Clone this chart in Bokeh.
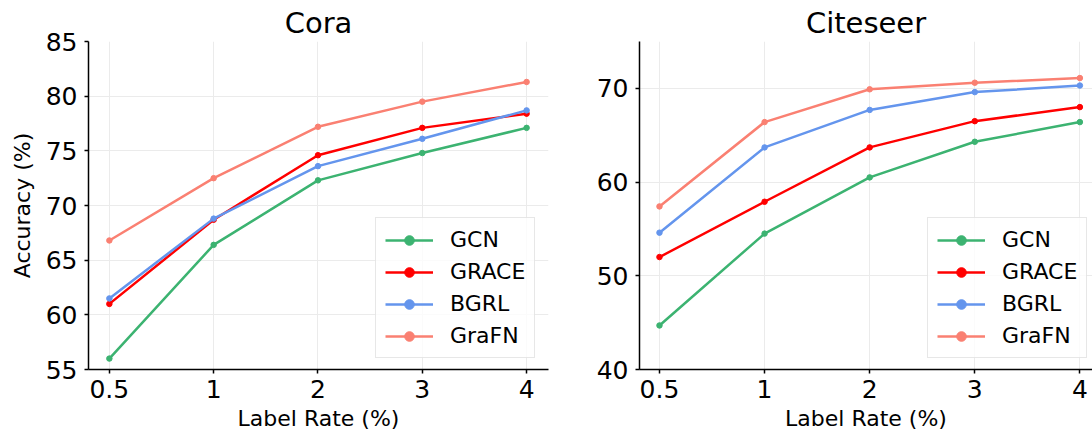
from bokeh.plotting import figure
from bokeh.models import Range1d, FixedTicker, Legend, LegendItem
from bokeh.layouts import row
from bokeh.embed import file_html
from bokeh.resources import INLINE

# ---- data ----
label_rates = ["0.5", "1", "2", "3", "4"]
methods = ["GCN", "GRACE", "BGRL", "GraFN"]
colors = ["#3cb371", "#ff0000", "#6495ed", "#fa8072"]

cora_gcn = [56.0, 66.4, 72.3, 74.8, 77.1]
cora_grace = [61.0, 68.7, 74.6, 77.1, 78.4]
cora_bgrl = [61.5, 68.8, 73.6, 76.1, 78.7]
cora_grafn = [66.8, 72.5, 77.2, 79.5, 81.3]

citeseer_gcn = [44.7, 54.5, 60.5, 64.3, 66.4]
citeseer_grace = [52.0, 57.9, 63.7, 66.5, 68.0]
citeseer_bgrl = [54.6, 63.7, 67.7, 69.6, 70.3]
citeseer_grafn = [57.4, 66.4, 69.9, 70.6, 71.1]

cora_yticks = [55, 60, 65, 70, 75, 80, 85]
citeseer_yticks = [40, 50, 60, 70]

FONT = "DejaVu Sans"


def make_panel(title, series, ylo, yhi, yticks, xstart, xend, width,
               mbl, mbr, ylabel, legend_loc):
    p = figure(width=width, height=434,
               x_range=Range1d(xstart, xend), y_range=Range1d(ylo, yhi),
               output_backend="svg", toolbar_location=None,
               min_border_left=mbl, min_border_right=mbr,
               min_border_top=41, min_border_bottom=65)
    p.outline_line_color = None
    p.background_fill_color = "white"
    p.border_fill_color = "white"

    p.title.text = title
    p.title.text_font = FONT
    p.title.text_font_size = "29px"
    p.title.text_font_style = "normal"
    p.title.text_color = "black"
    p.title.align = "center"
    p.title.standoff = 3
    p.title.offset = 0

    xs = list(range(len(label_rates)))
    p.xaxis.ticker = FixedTicker(ticks=xs)
    p.xaxis.major_label_overrides = {i: r for i, r in enumerate(label_rates)}
    p.yaxis.ticker = FixedTicker(ticks=yticks)

    for ax in (p.xaxis[0], p.yaxis[0]):
        ax.axis_line_color = "black"
        ax.axis_line_width = 1.5
        ax.major_tick_line_color = "black"
        ax.major_tick_line_width = 1.5
        ax.major_tick_out = 4
        ax.major_tick_in = 0
        ax.minor_tick_line_color = None
        ax.major_label_text_font = FONT
        ax.major_label_text_font_size = "25px"
        ax.major_label_text_color = "black"
        ax.axis_label_text_font = FONT
        ax.axis_label_text_font_size = "22px"
        ax.axis_label_text_font_style = "normal"
        ax.axis_label_text_color = "black"

    p.xaxis.major_label_standoff = 6
    p.yaxis.major_label_standoff = 7
    p.xaxis.axis_label = "Label Rate (%)"
    p.xaxis.axis_label_standoff = 5
    if ylabel:
        p.yaxis.axis_label = ylabel
        p.yaxis.axis_label_standoff = 8

    p.grid.grid_line_color = "#ebebeb"
    p.grid.grid_line_width = 1

    items = []
    for name, col, ys in zip(methods, colors, series):
        lr = p.line(xs, ys, line_color=col, line_width=2.5)
        sr = p.scatter(xs, ys, size=5.5, fill_color=col, line_color=col)
        items.append(LegendItem(label=name, renderers=[lr, sr]))

    leg = Legend(items=items, location=legend_loc)
    leg.label_text_font = FONT
    leg.label_text_font_size = "22px"
    leg.label_text_color = "black"
    leg.glyph_width = 48
    leg.glyph_height = 24
    leg.label_height = 24
    leg.label_standoff = 17
    leg.spacing = 7
    leg.padding = 9
    leg.margin = 0
    leg.border_line_color = "#d0d0d0"
    leg.border_line_width = 1
    leg.background_fill_color = "white"
    leg.background_fill_alpha = 0.8
    p.add_layout(leg)
    return p


p1 = make_panel("Cora", [cora_gcn, cora_grace, cora_bgrl, cora_grafn],
                55, 85, cora_yticks, -0.2, 4.21, 560, 88, 12,
                "Accuracy (%)", (287, 11))
p2 = make_panel("Citeseer", [citeseer_gcn, citeseer_grace, citeseer_bgrl, citeseer_grafn],
                40, 75, citeseer_yticks, -0.19, 4.12, 532, 79, 0,
                None, (288, 11))

layout = row(p1, p2)
open("out.html", "w").write(file_html(layout, INLINE))
